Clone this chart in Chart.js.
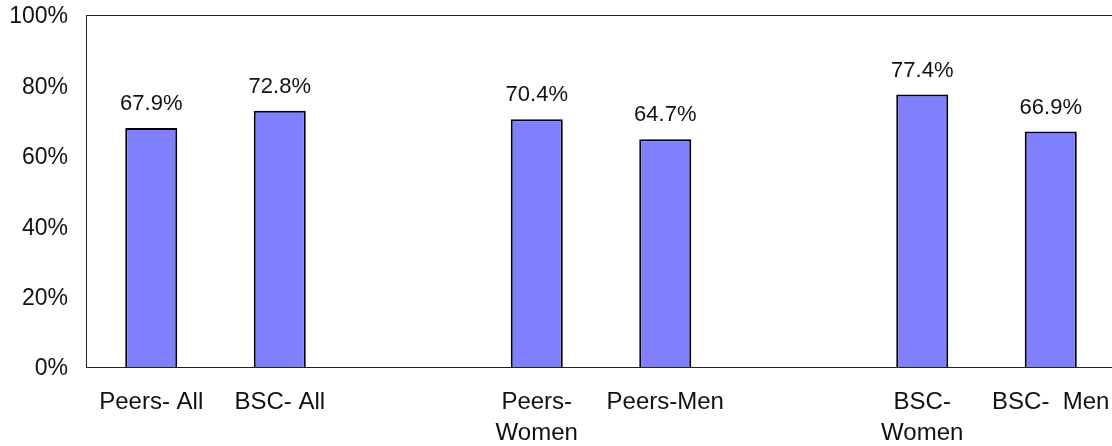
<!DOCTYPE html>
<html>
<head>
<meta charset="utf-8">
<script src="https://cdn.jsdelivr.net/npm/chart.js@4/dist/chart.umd.min.js"></script>
<style>
  html, body { margin: 0; padding: 0; background: #fff; overflow: hidden; }
  #wrap { width: 1116px; height: 446px; }
</style>
</head>
<body>
<div id="wrap"><canvas id="chart" width="1116" height="446"></canvas></div>
<script>
// ── DATA ─────────────────────────────────────
const categories = ['Peers- All', 'BSC- All', '', ['Peers-', 'Women'], 'Peers-Men', '', ['BSC-', 'Women'], 'BSC-  Men'];
const rates      = [67.9, 72.8, null, 70.4, 64.7, null, 77.4, 66.9];
const yTicks     = [0, 20, 40, 60, 80, 100];

const FONT = '"Liberation Sans", Arial, sans-serif';

// frame round the plot area (the right side falls off the page)
const frame = {
  id: 'frame',
  afterDatasetsDraw(chart) {
    const { ctx, chartArea: a } = chart;
    ctx.save();
    ctx.strokeStyle = '#222';
    ctx.lineWidth = 1;
    ctx.strokeRect(Math.round(a.left) - 0.5, Math.round(a.top) + 0.5,
                   Math.round(a.right - a.left), Math.round(a.bottom - a.top));
    ctx.restore();
  }
};

// value labels above bars
const valueLabels = {
  id: 'valueLabels',
  afterDatasetsDraw(chart) {
    const { ctx } = chart;
    const meta = chart.getDatasetMeta(0);
    ctx.save();
    ctx.font = '22px ' + FONT;
    ctx.fillStyle = '#111';
    ctx.textAlign = 'center';
    ctx.textBaseline = 'alphabetic';
    meta.data.forEach((bar, i) => {
      const v = rates[i];
      if (v == null) return;
      ctx.fillText(v.toFixed(1) + '%', bar.x, bar.y - 18);
    });
    ctx.restore();
  }
};

new Chart(document.getElementById('chart').getContext('2d'), {
  type: 'bar',
  data: {
    labels: categories,
    datasets: [{
      data: rates,
      backgroundColor: '#8080ff',
      borderColor: '#000',
      borderWidth: 2,
      barPercentage: 0.405,
      categoryPercentage: 1.0
    }]
  },
  options: {
    responsive: false,
    animation: false,
    layout: { padding: { top: 15, right: 1, left: 0, bottom: 0 } },
    plugins: { legend: { display: false }, tooltip: { enabled: false } },
    scales: {
      x: {
        grid: { display: false, drawTicks: false },
        border: { display: false },
        ticks: {
          color: '#111', padding: 20, maxRotation: 0, autoSkip: false,
          font: { family: FONT, size: 24, lineHeight: 1.3 }
        },
        afterFit(s) { s.height = 79; s.paddingLeft = 0; s.paddingRight = 0; }
      },
      y: {
        min: 0, max: 100,
        grid: { display: false, drawTicks: false },
        border: { display: false },
        afterBuildTicks(s) { s.ticks = yTicks.map(v => ({ value: v })); },
        ticks: {
          color: '#111', padding: 19, labelOffset: 2,
          font: { family: FONT, size: 23 },
          callback: v => v + '%'
        },
        afterFit(s) { s.width = 87; s.paddingTop = 0; s.paddingBottom = 0; }
      }
    }
  },
  plugins: [frame, valueLabels]
});
</script>
</body>
</html>
